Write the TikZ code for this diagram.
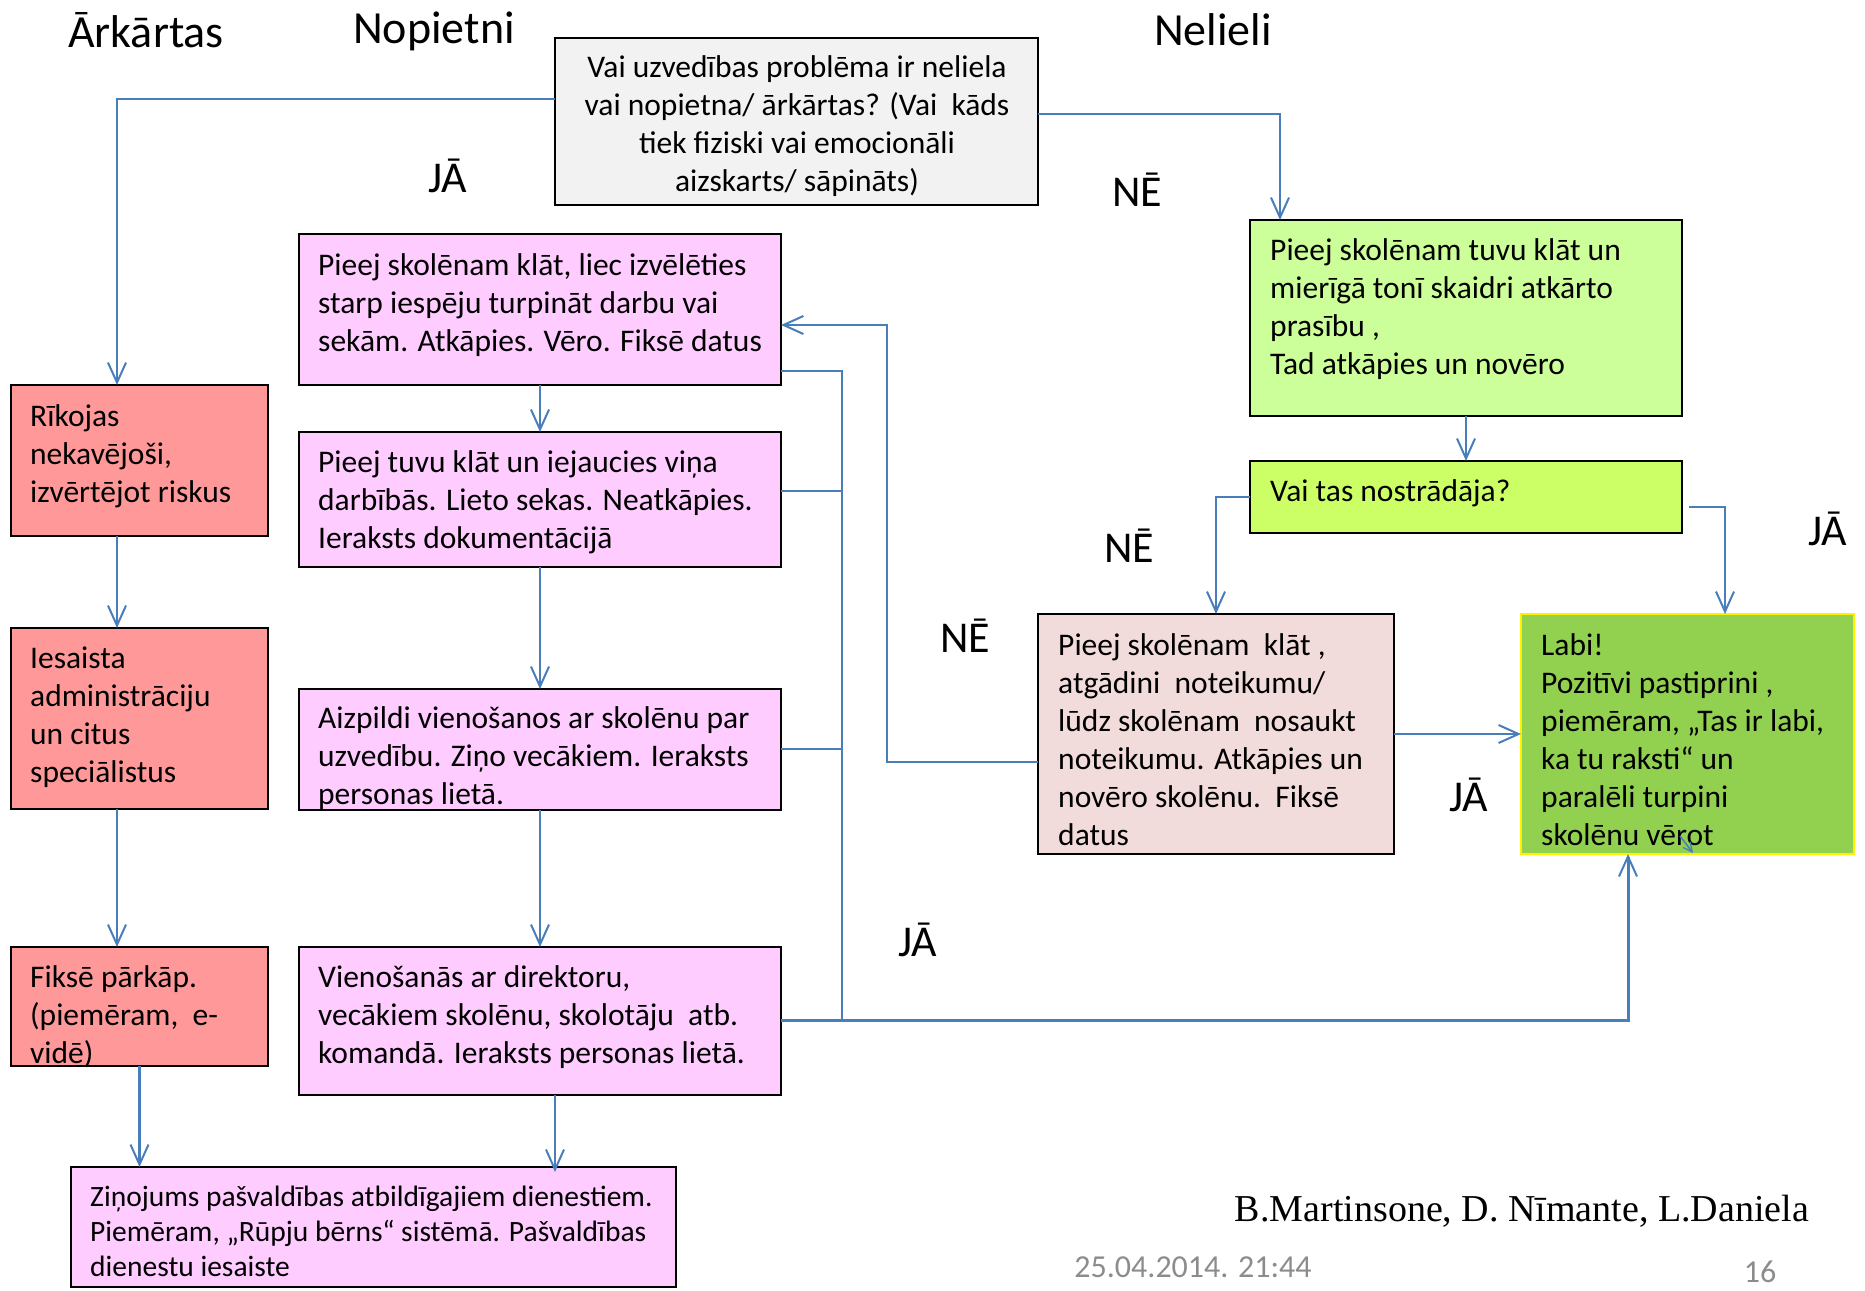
\documentclass[tikz,border=0pt]{standalone}
\usepackage{fontspec}
\setmainfont{Carlito}
\newfontfamily\timesfont{Liberation Serif}
\usetikzlibrary{arrows.meta}
\definecolor{conn}{HTML}{4A7EBB}
\definecolor{magfill}{HTML}{FFCCFF}
\definecolor{redfill}{HTML}{FF9999}
\definecolor{grayfill}{HTML}{F2F2F2}
\definecolor{greenA}{HTML}{CCFF99}
\definecolor{greenB}{HTML}{CCFF66}
\definecolor{pinkfill}{HTML}{F2DCDB}
\definecolor{labifill}{HTML}{92D050}
\definecolor{datecol}{HTML}{8C8C8C}
\begin{document}
\begin{tikzpicture}[x=1pt,y=-1pt,
  bx/.style={draw=black,line width=2.8pt,inner sep=0pt,outer sep=0pt,rectangle},
  txt/.style={font=\fontsize{31.5}{38}\selectfont,align=left,inner sep=0pt,anchor=west},
  lbl/.style={font=\fontsize{44}{50}\selectfont,inner sep=0pt},
  ttl/.style={font=\fontsize{46}{52}\selectfont,inner sep=0pt},
  ln/.style={draw=conn,line width=2.3pt},
  arr/.style={ln,-{Straight Barb[length=20pt,width=18pt,line width=2pt]}}]
\useasboundingbox (0,0) rectangle (1865,1290);

% titles
\node[ttl] (tA) at (146,30) {Ārkārtas};
\node[ttl] (tB) at (434,31) {Nopietni};
\node[ttl] (tC) at (1213,30) {Nelieli};

% boxes
\node[bx,fill=grayfill,minimum width=483,minimum height=167] (top) at (796.5,121.5) {};
\node[bx,fill=magfill,minimum width=482,minimum height=151] (m1) at (540,309.5) {};
\node[bx,fill=magfill,minimum width=482,minimum height=135] (m2) at (540,499.5) {};
\node[bx,fill=magfill,minimum width=482,minimum height=121] (m3) at (540,749.5) {};
\node[bx,fill=magfill,minimum width=482,minimum height=148] (m4) at (540,1021) {};
\node[bx,fill=redfill,minimum width=257,minimum height=151] (r1) at (139.5,460.5) {};
\node[bx,fill=redfill,minimum width=257,minimum height=181] (r2) at (139.5,718.5) {};
\node[bx,fill=redfill,minimum width=257,minimum height=119] (r3) at (139.5,1006.5) {};
\node[bx,fill=magfill,minimum width=605,minimum height=120] (bot) at (373.5,1227) {};
\node[bx,fill=greenA,minimum width=432,minimum height=196] (g1) at (1466,318) {};
\node[bx,fill=greenB,minimum width=432,minimum height=72] (vt) at (1466,497) {};
\node[bx,fill=pinkfill,minimum width=356,minimum height=240] (pk) at (1216,734) {};
\node[bx,draw=yellow,fill=labifill,minimum width=333,minimum height=240] (labi) at (1687.5,734) {};

% texts
\node[txt,align=center,anchor=center] (ttop) at (797,126.5) {Vai uzvedības problēma ir neliela\\vai nopietna/ ārkārtas? (Vai\ \ kāds\\tiek fiziski vai emocionāli\\aizskarts/ sāpināts)};
\node[txt] (tm1) at (318,305) {Pieej skolēnam klāt, liec izvēlēties\\starp iespēju turpināt darbu vai\\sekām. Atkāpies. Vēro. Fiksē datus};
\node[txt] (tm2) at (318,502) {Pieej tuvu klāt un iejaucies viņa\\darbībās. Lieto sekas. Neatkāpies.\\Ieraksts dokumentācijā};
\node[txt] (tm3) at (318,758) {Aizpildi vienošanos ar skolēnu par\\uzvedību. Ziņo vecākiem. Ieraksts\\personas lietā.};
\node[txt] (tm4) at (318,1017) {Vienošanās ar direktoru,\\vecākiem skolēnu, skolotāju\ \ atb.\\komandā. Ieraksts personas lietā.};
\node[txt] (tr1) at (30,456) {Rīkojas\\nekavējoši,\\izvērtējot riskus};
\node[txt] (tr2) at (30,717) {Iesaista\\administrāciju\\un citus\\speciālistus};
\node[txt] (tr3) at (30,1017) {Fiksē pārkāp.\\(piemēram,\ \ e-\\vidē)};
\node[txt,font=\fontsize{29.5}{35}\selectfont] (tbot) at (90,1231) {Ziņojums pašvaldības atbildīgajiem dienestiem.\\Piemēram, „Rūpju bērns“ sistēmā. Pašvaldības\\dienestu iesaiste};
\node[txt] (tg1) at (1270,309) {Pieej skolēnam tuvu klāt un\\mierīgā tonī skaidri atkārto\\prasību ,\\Tad atkāpies un novēro};
\node[txt] (tvt) at (1270,493) {Vai tas nostrādāja?};
\node[txt] (tpk) at (1058,740) {Pieej skolēnam\ \ klāt ,\\atgādini\ \ noteikumu/\\lūdz skolēnam\ \ nosaukt\\noteikumu. Atkāpies un\\novēro skolēnu.\ \ Fiksē\\datus};
\node[txt] (tlabi) at (1541,740) {Labi!\\Pozitīvi pastiprini ,\\piemēram, „Tas ir labi,\\ka tu raksti“ un\\paralēli turpini\\skolēnu vērot};

% labels
\node[lbl] (l1) at (448,176) {JĀ};
\node[lbl] (l2) at (1137,190) {NĒ};
\node[lbl] (l3) at (1129,546) {NĒ};
\node[lbl] (l4) at (1828,529) {JĀ};
\node[lbl] (l5) at (965,636) {NĒ};
\node[lbl] (l6) at (1469,795) {JĀ};
\node[lbl] (l7) at (918,940) {JĀ};

% connectors
\draw[arr] (top.west |- 0,99) -| ([xshift=-22.5pt]r1.north);
\draw[arr] (top.east |- 0,114) -| ([xshift=-186pt]g1.north);
\draw[arr] (g1.south) -- (vt.north);
\draw[arr] (vt.west) -| (pk.north);
\draw[arr] ([xshift=7pt,yshift=-10pt]vt.east) -| ([xshift=37.5pt]labi.north);
\draw[arr] (pk.east) -- (labi.west);
\draw[arr] (pk.west |- 0,762) -| (887,325) -- (m1.east |- 0,325);
\draw[ln] (m1.east |- 0,371) -| (842,1020);
\draw[ln] (m2.east |- 0,491) -- (842,491);
\draw[ln] (m3.east |- 0,749) -- (842,749);
\draw[arr,line width=3pt] (m4.east |- 0,1020) -| ([xshift=-59.5pt]labi.south);
\draw[arr] (m1.south) -- (m2.north);
\draw[arr] (m2.south) -- (m3.north);
\draw[arr] (m3.south) -- (m4.north);
\draw[arr] ([xshift=-22.5pt]r1.south) -- ([xshift=-22.5pt]r2.north);
\draw[arr] ([xshift=-22.5pt]r2.south) -- ([xshift=-22.5pt]r3.north);
\draw[arr] (r3.south) -- (r3.south |- bot.north);
\draw[arr] ([xshift=15pt]m4.south) -- ([xshift=15pt]m4.south |- 0,1172);
\draw[ln,line width=1.5pt,-{Straight Barb[length=9pt,width=9pt,line width=1.3pt]}] (1680,836) -- (1693,853);

% footer
\node[font=\timesfont\fontsize{38}{44}\selectfont,inner sep=0pt] (auth) at (1522,1211) {B.Martinsone, D. Nīmante, L.Daniela};
\node[font=\fontsize{32}{38}\selectfont,text=datecol,inner sep=0pt] (date) at (1193,1267) {25.04.2014. 21:44};
\node[font=\fontsize{32}{38}\selectfont,text=datecol,inner sep=0pt] (pg) at (1760,1272) {16};
\end{tikzpicture}
\end{document}
